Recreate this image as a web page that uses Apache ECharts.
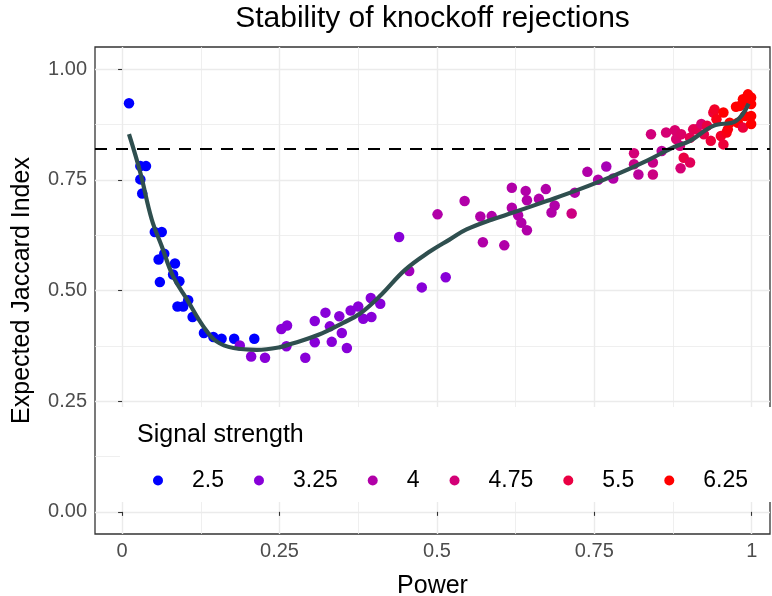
<!DOCTYPE html>
<html>
<head>
<meta charset="utf-8">
<script src="https://cdn.jsdelivr.net/npm/echarts@6/dist/echarts.min.js"></script>
<style>
html, body { margin: 0; padding: 0; background: #fff; }
#chart { width: 772px; height: 596px; }
</style>
</head>
<body>
<div id="chart"></div>
<script>
// points: power, expected jaccard, signal strength
var pointPower = [
    0.011, 0.029, 0.038, 0.029, 0.032, 0.052, 0.063, 0.067, 0.058, 0.084, 0.081, 0.091, 0.060, 0.105, 0.088, 0.097, 0.112, 0.130, 0.145, 0.158, 0.178, 0.210,
    0.187, 0.205, 0.227, 0.253, 0.262, 0.261, 0.291, 0.306, 0.306, 0.323, 0.330, 0.333, 0.345, 0.349, 0.357, 0.363, 0.375, 0.383, 0.396, 0.395, 0.410, 0.440, 0.476, 0.514,
    0.456,
    0.501, 0.544, 0.569, 0.587, 0.573, 0.607, 0.619, 0.641, 0.643, 0.662, 0.673, 0.619, 0.629, 0.634, 0.643, 0.687, 0.682, 0.719, 0.739, 0.756, 0.769, 0.780,
    0.714,
    0.813, 0.813, 0.820, 0.840, 0.843, 0.843, 0.857, 0.864, 0.878, 0.880, 0.886, 0.887, 0.888, 0.892, 0.902, 0.902, 0.907, 0.912, 0.920, 0.924, 0.929, 0.935,
    0.939, 0.941, 0.944, 0.951, 0.955, 0.955, 0.960, 0.962, 0.965, 0.975, 0.978, 0.981, 0.986, 0.986, 0.989, 0.991, 0.994, 0.999, 0.999, 0.999, 0.999
];
var pointJaccard = [
    0.923, 0.781, 0.781, 0.751, 0.719, 0.632, 0.632, 0.583, 0.570, 0.561, 0.536, 0.521, 0.519, 0.478, 0.464, 0.464, 0.440, 0.404, 0.395, 0.391, 0.391, 0.391,
    0.376, 0.351, 0.348, 0.413, 0.421, 0.374, 0.348, 0.383, 0.431, 0.450, 0.419, 0.384, 0.442, 0.404, 0.370, 0.455, 0.464, 0.436, 0.440, 0.483, 0.470, 0.621, 0.507, 0.530,
    0.544,
    0.672, 0.702, 0.667, 0.668, 0.609, 0.602, 0.732, 0.725, 0.704, 0.707, 0.729, 0.687, 0.670, 0.653, 0.636, 0.692, 0.676, 0.721, 0.768, 0.750, 0.780, 0.753,
    0.674,
    0.810, 0.785, 0.762, 0.853, 0.789, 0.762, 0.815, 0.857, 0.862, 0.842, 0.827, 0.776, 0.853, 0.800, 0.789, 0.845, 0.864, 0.864, 0.876, 0.853, 0.872, 0.838,
    0.902, 0.909, 0.887, 0.849, 0.902, 0.830, 0.857, 0.864, 0.879, 0.915, 0.879, 0.917, 0.932, 0.868, 0.894, 0.925, 0.943, 0.936, 0.921, 0.894, 0.876
];
var pointSignal = [
    2.5, 2.5, 2.5, 2.5, 2.5, 2.5, 2.5, 2.5, 2.5, 2.5, 2.5, 2.5, 2.5, 2.5, 2.5, 2.5, 2.5, 2.5, 2.5, 2.5, 2.5, 2.5,
    3.25, 3.25, 3.25, 3.25, 3.25, 3.25, 3.25, 3.25, 3.25, 3.25, 3.25, 3.25, 3.25, 3.25, 3.25, 3.25, 3.25, 3.25, 3.25, 3.25, 3.25, 3.25, 3.25, 3.25,
    3.7,
    4, 4, 4, 4, 4, 4, 4, 4, 4, 4, 4, 4, 4, 4, 4, 4, 4, 4, 4, 4, 3.8, 4,
    4.6,
    4.75, 4.5, 4.2, 4.7, 4.5, 4.6, 4.2, 4.8, 4.9, 4.9, 4.7, 4.8, 5.0, 5.5, 5.2, 5.3, 5.2, 5.3, 4.9, 5.4, 5.5, 5.6,
    5.6, 5.8, 6.0, 5.8, 6.25, 5.6, 6.0, 6.1, 6.25, 6.25, 6.25, 6.25, 6.25, 5.6, 6.25, 6.25, 6.25, 6.25, 6.25, 6.25, 6.25
];

// smoothed fit line
var fitPower = [0.011, 0.029, 0.047, 0.063, 0.081, 0.103, 0.129, 0.150, 0.177, 0.214, 0.251, 0.272, 0.312, 0.351, 0.378,
    0.412, 0.449, 0.490, 0.520, 0.547, 0.589, 0.621, 0.674, 0.727, 0.780, 0.833, 0.875, 0.902, 0.939, 0.975, 0.995];
var fitJaccard = [0.853, 0.766, 0.661, 0.600, 0.532, 0.480, 0.419, 0.385, 0.370, 0.366, 0.372, 0.381, 0.400, 0.427, 0.448,
    0.491, 0.546, 0.589, 0.615, 0.638, 0.661, 0.676, 0.702, 0.729, 0.759, 0.793, 0.823, 0.838, 0.872, 0.883, 0.922];

var thresholdJaccard = 0.82;

var signalLevels = ['2.5', '3.25', '4', '4.75', '5.5', '6.25'];
var signalColors = ['#0000FF', '#8800D8', '#B100A8', '#D30077', '#EA0043', '#FF0000'];

var xMajorTicks = [0, 0.25, 0.5, 0.75, 1];
var xMinorTicks = [0.125, 0.375, 0.625, 0.875];
var yMajorTicks = [0, 0.25, 0.5, 0.75, 1];
var yMinorTicks = [0.125, 0.375, 0.625, 0.875];

var FONT = 'Liberation Sans, Arial, sans-serif';

var pointData = pointPower.map(function(p, i) { return [p, pointJaccard[i], pointSignal[i]]; });
var fitData = fitPower.map(function(p, i) { return [p, fitJaccard[i]]; });

var series = [];
series.push({
    name: 'points',
    type: 'scatter',
    data: pointData,
    symbolSize: 10.5,
    itemStyle: { opacity: 1 },
    z: 2
});
series.push({
    name: 'fit',
    type: 'line',
    data: fitData,
    smooth: 0.4,
    showSymbol: false,
    lineStyle: { color: '#2F4F4F', width: 4.2 },
    z: 3,
    markLine: {
        silent: true,
        symbol: ['none', 'none'],
        label: { show: false },
        lineStyle: { type: [12, 9], color: '#000', width: 1.8 },
        data: [{ yAxis: thresholdJaccard }]
    }
});
// empty series only to feed the legend
for (let i = 0; i < signalLevels.length; i++) {
    series.push({
        name: signalLevels[i],
        type: 'scatter',
        data: [],
        itemStyle: { color: signalColors[i], opacity: 1 }
    });
}

var xMin = -0.043, xMax = 1.029;
var yMin = -0.05, yMax = 1.05;

var gridLine = { color: '#EBEBEB', width: 1.4 };
var gridLineMinor = { color: '#EBEBEB', width: 0.8 };

var option = {
    animation: false,
    textStyle: { fontFamily: FONT },
    grid: {
        left: 95, right: 2, top: 47, bottom: 62,
        outerBoundsMode: 'none',
        containLabel: false,
        show: true, borderColor: '#333', borderWidth: 1.3,
        backgroundColor: 'transparent'
    },
    visualMap: {
        show: false,
        type: 'continuous',
        seriesIndex: 0,
        dimension: 2,
        min: 2.5,
        max: 6.25,
        inRange: { color: signalColors }
    },
    legend: {
        data: signalLevels.map(function(n) { return { name: n, icon: 'circle' }; }),
        orient: 'horizontal',
        left: 120,
        top: 407,
        itemWidth: 10,
        itemHeight: 10,
        itemGap: 30,
        padding: [62, 23, 10, 33],
        backgroundColor: '#fff',
        selectedMode: false,
        textStyle: { fontSize: 23, color: '#000', fontFamily: FONT, padding: [0, 0, 0, 24] }
    },
    xAxis: [{
        type: 'value',
        min: xMin, max: xMax,
        name: 'Power',
        nameLocation: 'middle',
        nameGap: 40,
        nameTextStyle: { fontSize: 25, color: '#000', fontFamily: FONT },
        axisLine: { show: false },
        axisTick: { show: true, length: 4, customValues: xMajorTicks, lineStyle: { color: '#333', width: 1.1 } },
        axisLabel: {
            customValues: xMajorTicks, margin: 7, fontSize: 20, color: '#4D4D4D', fontFamily: FONT,
            formatter: function(v) { return String(v); }
        },
        splitLine: { show: true, customValues: xMajorTicks, lineStyle: gridLine }
    }, {
        type: 'value',
        min: xMin, max: xMax,
        position: 'bottom',
        axisLine: { show: false },
        axisTick: { show: false, customValues: xMinorTicks },
        axisLabel: { show: false, customValues: xMinorTicks },
        splitLine: { show: true, customValues: xMinorTicks, lineStyle: gridLineMinor }
    }],
    yAxis: [{
        type: 'value',
        min: yMin, max: yMax,
        name: 'Expected Jaccard Index',
        nameLocation: 'middle',
        nameGap: 60,
        nameTextStyle: { fontSize: 25, color: '#000', fontFamily: FONT },
        axisLine: { show: false },
        axisTick: { show: true, length: 4, customValues: yMajorTicks, lineStyle: { color: '#333', width: 1.1 } },
        axisLabel: {
            customValues: yMajorTicks, margin: 8, fontSize: 20, color: '#4D4D4D', fontFamily: FONT,
            formatter: function(v) { return v.toFixed(2); }
        },
        splitLine: { show: true, customValues: yMajorTicks, lineStyle: gridLine }
    }, {
        type: 'value',
        min: yMin, max: yMax,
        position: 'left',
        axisLine: { show: false },
        axisTick: { show: false, customValues: yMinorTicks },
        axisLabel: { show: false, customValues: yMinorTicks },
        splitLine: { show: true, customValues: yMinorTicks, lineStyle: gridLineMinor }
    }],
    graphic: [{
        type: 'text',
        x: 432.5, y: 19,
        style: { text: 'Stability of knockoff rejections', fontSize: 30, fontFamily: FONT, fill: '#000', align: 'center', verticalAlign: 'middle' }
    }, {
        type: 'text',
        x: 137, y: 435, z: 100,
        style: { text: 'Signal strength', fontSize: 25, fontFamily: FONT, fill: '#000', align: 'left', verticalAlign: 'middle' }
    }],
    series: series
};

var chart = echarts.init(document.getElementById('chart'));
chart.setOption(option);
</script>
</body>
</html>
